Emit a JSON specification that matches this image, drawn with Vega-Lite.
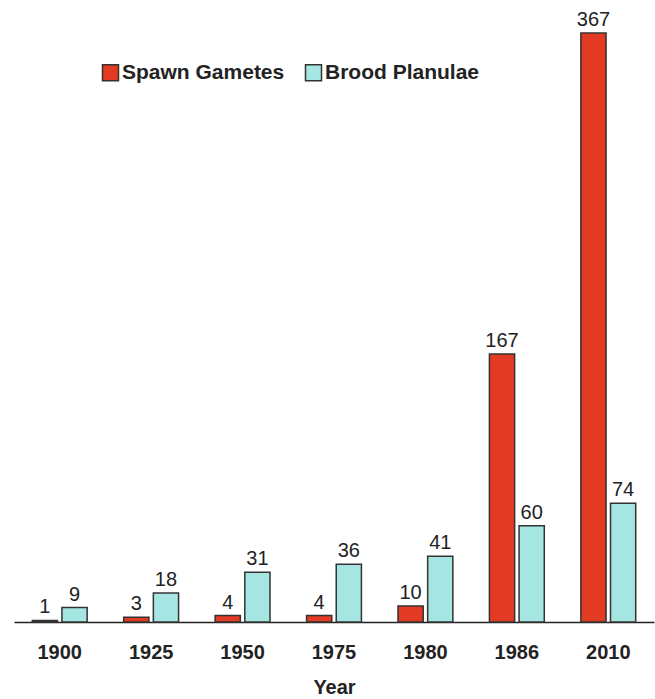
{
  "$schema": "https://vega.github.io/schema/vega-lite/v6.json",
  "width": 640,
  "height": 622,
  "autosize": {"type": "none"},
  "padding": {"left": 14, "top": 0, "right": 1, "bottom": 77},
  "background": "white",
  "config": {
    "view": {"stroke": null},
    "font": "Liberation Sans"
  },
  "data": {
    "values": [
      {"year": "1900", "type": "Spawn Gametes", "count": 1},
      {"year": "1900", "type": "Brood Planulae", "count": 9},
      {"year": "1925", "type": "Spawn Gametes", "count": 3},
      {"year": "1925", "type": "Brood Planulae", "count": 18},
      {"year": "1950", "type": "Spawn Gametes", "count": 4},
      {"year": "1950", "type": "Brood Planulae", "count": 31},
      {"year": "1975", "type": "Spawn Gametes", "count": 4},
      {"year": "1975", "type": "Brood Planulae", "count": 36},
      {"year": "1980", "type": "Spawn Gametes", "count": 10},
      {"year": "1980", "type": "Brood Planulae", "count": 41},
      {"year": "1986", "type": "Spawn Gametes", "count": 167},
      {"year": "1986", "type": "Brood Planulae", "count": 60},
      {"year": "2010", "type": "Spawn Gametes", "count": 367},
      {"year": "2010", "type": "Brood Planulae", "count": 74}
    ]
  },
  "encoding": {
    "x": {
      "field": "year",
      "type": "nominal",
      "scale": {"paddingInner": 0.4, "paddingOuter": 0.2},
      "axis": {
        "title": "Year",
        "labelAngle": 0,
        "ticks": false,
        "domainColor": "#222",
        "domainWidth": 1.5,
        "labelFont": "Liberation Sans",
        "labelFontWeight": "bold",
        "labelFontSize": 20,
        "labelColor": "#222",
        "labelPadding": 20,
        "titleFont": "Liberation Sans",
        "titleFontWeight": "bold",
        "titleFontSize": 20,
        "titleColor": "#222",
        "titlePadding": 15
      }
    },
    "xOffset": {
      "field": "type",
      "type": "nominal",
      "scale": {"domain": ["Spawn Gametes", "Brood Planulae"], "paddingInner": 0.15}
    },
    "y": {
      "field": "count",
      "type": "quantitative",
      "scale": {"domain": [0, 387.5], "nice": false, "zero": true},
      "axis": null
    }
  },
  "layer": [
    {
      "mark": {"type": "bar", "stroke": "#333", "strokeWidth": 1.5},
      "encoding": {
        "color": {
          "field": "type",
          "type": "nominal",
          "scale": {"domain": ["Spawn Gametes", "Brood Planulae"], "range": ["#e33a24", "#a6e6e2"]},
          "legend": {
            "title": null,
            "orient": "none",
            "legendX": 86,
            "legendY": 62,
            "direction": "horizontal",
            "padding": 0,
            "symbolType": "square",
            "symbolSize": 256,
            "symbolStrokeColor": "#333",
            "symbolStrokeWidth": 1.5,
            "symbolOpacity": 1,
            "labelFont": "Liberation Sans",
            "labelFontWeight": "bold",
            "labelFontSize": 21,
            "labelColor": "#222",
            "labelOffset": 1,
            "columnPadding": 17,
            "labelLimit": 300
          }
        }
      }
    },
    {
      "mark": {"type": "text", "baseline": "alphabetic", "dy": -7, "font": "Liberation Sans", "fontSize": 20, "color": "#222"},
      "encoding": {
        "text": {"field": "count", "type": "quantitative"}
      }
    }
  ]
}
